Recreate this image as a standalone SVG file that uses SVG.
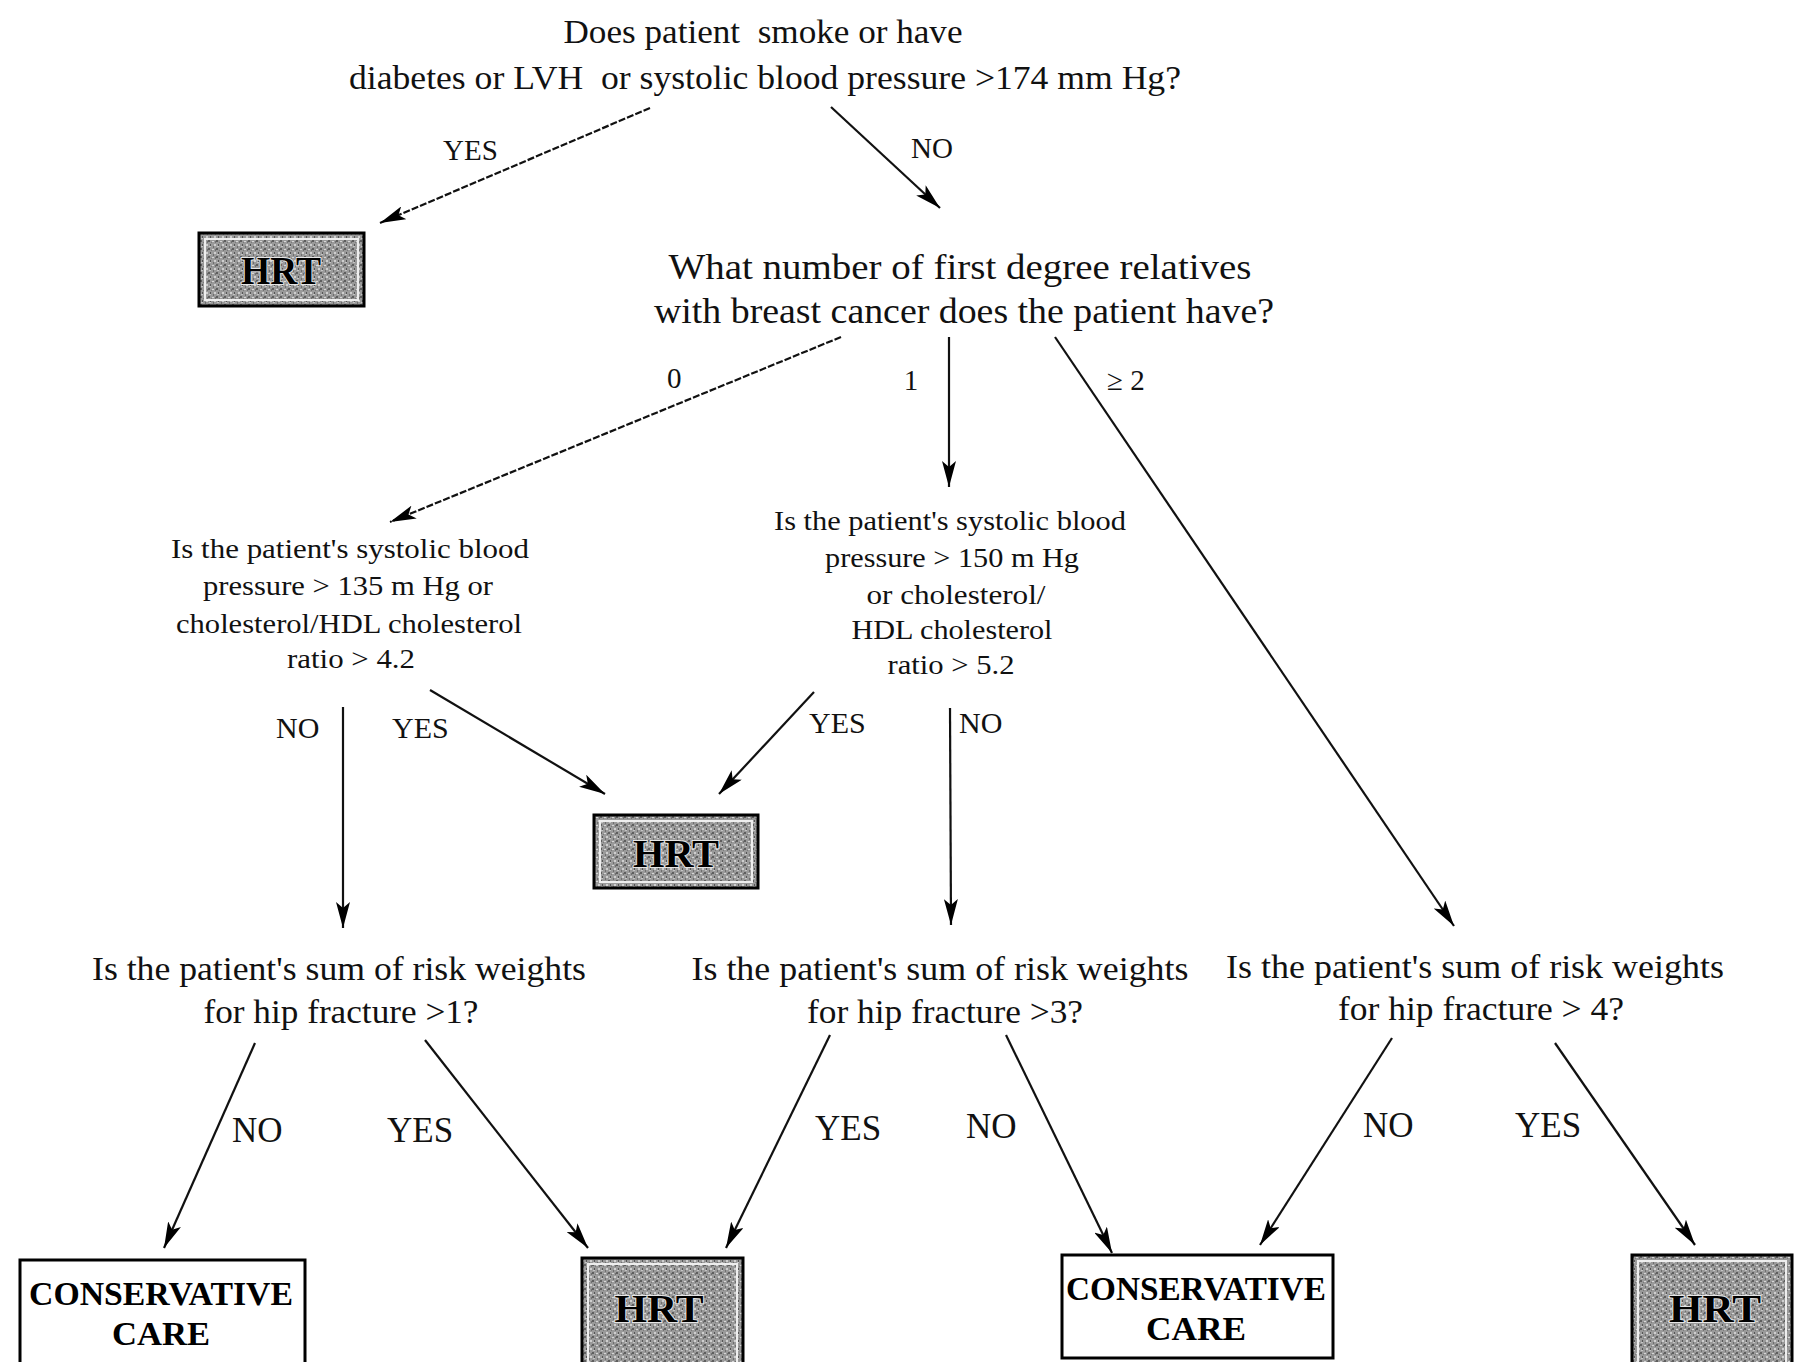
<svg xmlns="http://www.w3.org/2000/svg" width="1797" height="1362" viewBox="0 0 1797 1362">
<defs>
<style>
.q{font-family:"Liberation Serif","Times New Roman",serif;fill:#111;text-anchor:middle;white-space:pre}
.q1{font-size:34px}
.q2{font-size:36px}
.q3{font-size:28px}
.q5{font-size:34px}
.lbl{font-family:"Liberation Serif","Times New Roman",serif;fill:#111}
.ls{font-size:29px}
.lm{font-size:30px}
.lb{font-size:35px}
.hrt{font-family:"Liberation Serif","Times New Roman",serif;font-weight:bold;font-size:41px;fill:#000;text-anchor:middle;stroke:#e6e6e6;stroke-width:2px;paint-order:stroke}
.cc{font-family:"Liberation Serif","Times New Roman",serif;font-weight:bold;font-size:33px;fill:#000;text-anchor:middle}
.conn line{stroke:#111;stroke-width:2.2;fill:none;marker-end:url(#ah)}
.dash{stroke-dasharray:7 2}
.hbox{fill:url(#stip);stroke:#000;stroke-width:3}
.hin{fill:none;stroke:#eeeeee;stroke-width:2}
.cbox{fill:#fff;stroke:#000;stroke-width:3}
</style>
<marker id="ah" viewBox="0 0 26 14" refX="26" refY="7" markerWidth="26" markerHeight="14" markerUnits="userSpaceOnUse" orient="auto">
<path d="M0,0 L26,7 L0,14 L6,7 z" fill="#000"/>
</marker>
<pattern id="stip" width="8" height="8" patternUnits="userSpaceOnUse">
<rect width="8" height="8" fill="#9a9a9a"/>
<rect x="0" y="0" width="2" height="2" fill="#5e5e5e"/>
<rect x="4" y="1" width="2" height="1" fill="#d6d6d6"/>
<rect x="2" y="4" width="1" height="2" fill="#555"/>
<rect x="6" y="4" width="2" height="2" fill="#cfcfcf"/>
<rect x="5" y="6" width="1" height="2" fill="#6e6e6e"/>
<rect x="1" y="6" width="2" height="1" fill="#c4c4c4"/>
<rect x="3" y="2" width="1" height="1" fill="#7a7a7a"/>
<rect x="7" y="1" width="1" height="2" fill="#707070"/>
</pattern>
</defs>
<rect width="1797" height="1362" fill="#fff"/>

<g id="q1">
<text class="q q1" x="763" y="43" textLength="399" lengthAdjust="spacingAndGlyphs" xml:space="preserve">Does patient  smoke or have</text>
<text class="q q1" x="765" y="89" textLength="832" lengthAdjust="spacingAndGlyphs" xml:space="preserve">diabetes or LVH  or systolic blood pressure &gt;174 mm Hg?</text>
</g>

<g id="hrt1">
<rect class="hbox" x="199" y="233" width="165" height="73"/>
<rect class="hin" x="205" y="239" width="153" height="61"/>
<text class="hrt" x="281" y="284" textLength="80" lengthAdjust="spacingAndGlyphs">HRT</text>
</g>

<g id="q2">
<text class="q q2" x="960" y="279" textLength="583" lengthAdjust="spacingAndGlyphs">What number of first degree relatives</text>
<text class="q q2" x="964" y="323" textLength="620" lengthAdjust="spacingAndGlyphs">with breast cancer does the patient have?</text>
</g>

<g id="q3">
<text class="q q3" x="350" y="558" textLength="358" lengthAdjust="spacingAndGlyphs">Is the patient's systolic blood</text>
<text class="q q3" x="348" y="595" textLength="290" lengthAdjust="spacingAndGlyphs">pressure &gt; 135 m Hg or</text>
<text class="q q3" x="349" y="633" textLength="346" lengthAdjust="spacingAndGlyphs">cholesterol/HDL cholesterol</text>
<text class="q q3" x="351" y="668" textLength="128" lengthAdjust="spacingAndGlyphs">ratio &gt; 4.2</text>
</g>

<g id="q4">
<text class="q q3" x="950" y="530" textLength="352" lengthAdjust="spacingAndGlyphs">Is the patient's systolic blood</text>
<text class="q q3" x="952" y="567" textLength="254" lengthAdjust="spacingAndGlyphs">pressure &gt; 150 m Hg</text>
<text class="q q3" x="956" y="604" textLength="179" lengthAdjust="spacingAndGlyphs">or cholesterol/</text>
<text class="q q3" x="952" y="639" textLength="201" lengthAdjust="spacingAndGlyphs">HDL cholesterol</text>
<text class="q q3" x="951" y="674" textLength="127" lengthAdjust="spacingAndGlyphs">ratio &gt; 5.2</text>
</g>

<g id="hrt2">
<rect class="hbox" x="594" y="815" width="164" height="73"/>
<rect class="hin" x="600" y="821" width="152" height="61"/>
<text class="hrt" x="676" y="867" textLength="86" lengthAdjust="spacingAndGlyphs">HRT</text>
</g>

<g id="q5">
<text class="q q5" x="339" y="980" textLength="494" lengthAdjust="spacingAndGlyphs">Is the patient's sum of risk weights</text>
<text class="q q5" x="341" y="1023" textLength="275" lengthAdjust="spacingAndGlyphs">for hip fracture &gt;1?</text>
</g>

<g id="q6">
<text class="q q5" x="940" y="980" textLength="497" lengthAdjust="spacingAndGlyphs">Is the patient's sum of risk weights</text>
<text class="q q5" x="945" y="1023" textLength="276" lengthAdjust="spacingAndGlyphs">for hip fracture &gt;3?</text>
</g>

<g id="q7">
<text class="q q5" x="1475" y="978" textLength="498" lengthAdjust="spacingAndGlyphs">Is the patient's sum of risk weights</text>
<text class="q q5" x="1481" y="1020" textLength="286" lengthAdjust="spacingAndGlyphs">for hip fracture &gt; 4?</text>
</g>

<g id="cc1">
<rect class="cbox" x="20" y="1260" width="285" height="110"/>
<text class="cc" x="161" y="1305" textLength="264" lengthAdjust="spacingAndGlyphs">CONSERVATIVE</text>
<text class="cc" x="161" y="1345" textLength="98" lengthAdjust="spacingAndGlyphs">CARE</text>
</g>

<g id="hrt3">
<rect class="hbox" x="582" y="1258" width="161" height="112"/>
<rect class="hin" x="588" y="1264" width="149" height="110"/>
<text class="hrt" x="659" y="1322" textLength="89" lengthAdjust="spacingAndGlyphs">HRT</text>
</g>

<g id="cc2">
<rect class="cbox" x="1062" y="1255" width="271" height="103"/>
<text class="cc" x="1196" y="1300" textLength="260" lengthAdjust="spacingAndGlyphs">CONSERVATIVE</text>
<text class="cc" x="1196" y="1340" textLength="100" lengthAdjust="spacingAndGlyphs">CARE</text>
</g>

<g id="hrt4">
<rect class="hbox" x="1632" y="1255" width="160" height="115"/>
<rect class="hin" x="1638" y="1261" width="148" height="110"/>
<text class="hrt" x="1715" y="1322" textLength="92" lengthAdjust="spacingAndGlyphs">HRT</text>
</g>

<g id="connectors" class="conn">
<line class="dash" x1="650" y1="108" x2="380" y2="223"/>
<line x1="831" y1="107" x2="940" y2="208"/>
<line class="dash" x1="841" y1="337" x2="390" y2="522"/>
<line x1="949" y1="337" x2="949" y2="487"/>
<line x1="1055" y1="337" x2="1454" y2="926"/>
<line x1="343" y1="707" x2="343" y2="928"/>
<line x1="430" y1="690" x2="605" y2="794"/>
<line x1="814" y1="692" x2="719" y2="794"/>
<line x1="950" y1="708" x2="951" y2="925"/>
<line x1="255" y1="1043" x2="164" y2="1248"/>
<line x1="425" y1="1040" x2="588" y2="1248"/>
<line x1="830" y1="1035" x2="726" y2="1248"/>
<line x1="1006" y1="1035" x2="1112" y2="1253"/>
<line x1="1392" y1="1038" x2="1260" y2="1245"/>
<line x1="1555" y1="1043" x2="1695" y2="1245"/>
</g>

<g id="labels">
<text class="lbl ls" x="443" y="160">YES</text>
<text class="lbl ls" x="911" y="158">NO</text>
<text class="lbl ls" x="667" y="388">0</text>
<text class="lbl ls" x="911" y="390" text-anchor="middle">1</text>
<text class="lbl ls" x="1107" y="390">≥ 2</text>
<text class="lbl lm" x="276" y="738">NO</text>
<text class="lbl lm" x="392" y="738">YES</text>
<text class="lbl lm" x="809" y="733">YES</text>
<text class="lbl lm" x="959" y="733">NO</text>
<text class="lbl lb" x="232" y="1142">NO</text>
<text class="lbl lb" x="387" y="1142">YES</text>
<text class="lbl lb" x="815" y="1140">YES</text>
<text class="lbl lb" x="966" y="1138">NO</text>
<text class="lbl lb" x="1363" y="1137">NO</text>
<text class="lbl lb" x="1515" y="1137">YES</text>
</g>
</svg>
